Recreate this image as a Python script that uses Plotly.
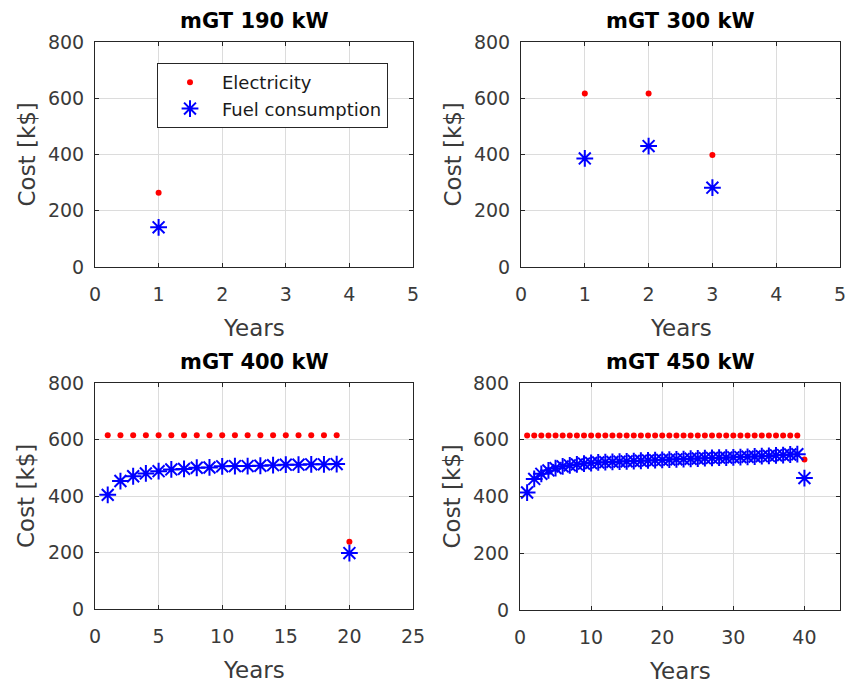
import plotly.graph_objects as go

# Yearly costs for each micro gas turbine size
years_190 = [1]
elec_190 = [264]
fuel_190 = [141]

years_300 = [1, 2, 3]
elec_300 = [617, 617, 398]
fuel_300 = [386, 430, 282]

years_400 = [1, 2, 3, 4, 5, 6, 7, 8, 9, 10, 11, 12, 13, 14, 15, 16, 17, 18, 19, 20]
elec_400 = [615, 615, 615, 615, 615, 615, 615, 615, 615, 615,
            615, 615, 615, 615, 615, 615, 615, 615, 615, 238]
fuel_400 = [404, 453, 470, 480, 488, 494, 496, 500, 501, 505,
            506, 506, 507, 509, 511, 511, 512, 512, 513, 198]

years_450 = [1, 2, 3, 4, 5, 6, 7, 8, 9, 10, 11, 12, 13, 14, 15, 16, 17, 18, 19, 20,
             21, 22, 23, 24, 25, 26, 27, 28, 29, 30, 31, 32, 33, 34, 35, 36, 37, 38, 39, 40]
elec_450 = [615, 615, 615, 615, 615, 615, 615, 615, 615, 615,
            615, 615, 615, 615, 615, 615, 615, 615, 615, 615,
            615, 615, 615, 615, 615, 615, 615, 615, 615, 615,
            615, 615, 615, 615, 615, 615, 615, 615, 615, 530]
fuel_450 = [414, 462, 480, 492, 500, 506, 510, 513, 516, 518,
            520, 521, 522, 523, 524, 525, 526, 527, 528, 529,
            530, 531, 532, 533, 534, 535, 536, 537, 537, 538,
            539, 540, 541, 542, 543, 545, 546, 548, 549, 465]

titles = ["mGT 190 kW", "mGT 300 kW", "mGT 400 kW", "mGT 450 kW"]
x_ranges = [[0, 5], [0, 5], [0, 25], [0, 45]]
x_ticks = [[0, 1, 2, 3, 4, 5], [0, 1, 2, 3, 4, 5], [0, 5, 10, 15, 20, 25], [0, 10, 20, 30, 40]]
y_ticks = [0, 200, 400, 600, 800]

panels = [
    (years_190, elec_190, fuel_190),
    (years_300, elec_300, fuel_300),
    (years_400, elec_400, fuel_400),
    (years_450, elec_450, fuel_450),
]

W, H = 848, 686
# panel boxes in pixels: (left, right, top, bottom)
boxes = [
    (95, 413, 42, 267),
    (521, 840, 42, 267),
    (95, 413, 383, 609),
    (520, 840, 383, 610),
]

FONT = "DejaVu Sans"
TXT = "#3a3a3a"
AXC = "#262626"
GRID = "#dcdcdc"

fig = go.Figure()
layout = dict(
    template="none",
    width=W, height=H,
    margin=dict(l=0, r=0, t=0, b=0, autoexpand=False),
    paper_bgcolor="white", plot_bgcolor="white",
    font=dict(family=FONT, color=TXT),
    showlegend=True,
    legend=dict(
        x=157 / W, y=1 - 63 / H, xanchor="left", yanchor="top",
        bgcolor="white", bordercolor=AXC, borderwidth=1,
        font=dict(family=FONT, size=18, color="#1a1a1a"),
        tracegroupgap=0, itemwidth=54,
    ),
)

annotations = []
for i, ((yrs, elec, fuel), (l, r, t, b)) in enumerate(zip(panels, boxes)):
    n = "" if i == 0 else str(i + 1)
    xa, ya = "x" + n, "y" + n
    fig.add_trace(go.Scatter(
        x=yrs, y=elec, mode="markers", name="Electricity",
        marker=dict(symbol="circle", size=6, color="#ff0000"),
        xaxis=xa, yaxis=ya, showlegend=(i == 0), legendgroup="e",
    ))
    fig.add_trace(go.Scatter(
        x=yrs, y=fuel, mode="markers", name="Fuel consumption",
        marker=dict(symbol="asterisk-open", size=14, color="#0000ff",
                    line=dict(color="#0000ff", width=2)),
        xaxis=xa, yaxis=ya, showlegend=(i == 0), legendgroup="f",
    ))
    common = dict(
        automargin=False,
        showline=True, linecolor=AXC, linewidth=1, mirror="ticks",
        ticks="inside", ticklen=4, tickcolor=AXC,
        showgrid=True, gridcolor=GRID, gridwidth=1, zeroline=False,
        tickfont=dict(family=FONT, size=19, color=TXT),
        fixedrange=True,
    )
    layout["xaxis" + n] = dict(
        common, domain=[l / W, r / W], range=x_ranges[i],
        tickvals=x_ticks[i], anchor=ya, ticklabelstandoff=10,
    )
    layout["yaxis" + n] = dict(
        common, domain=[1 - b / H, 1 - t / H], range=[0, 800],
        tickvals=y_ticks, anchor=xa, ticklabelstandoff=6,
    )
    cx = (l + r) / 2
    annotations.append(dict(
        text="<b>" + titles[i] + "</b>", x=cx / W, y=1 - (t - 21) / H,
        xref="paper", yref="paper", showarrow=False,
        font=dict(family=FONT, size=21, color="#000000"),
        xanchor="center", yanchor="middle",
    ))
    annotations.append(dict(
        text="Years", x=cx / W, y=1 - (b + 61) / H,
        xref="paper", yref="paper", showarrow=False,
        font=dict(family=FONT, size=23, color=TXT),
        xanchor="center", yanchor="middle",
    ))
    annotations.append(dict(
        text="Cost [k$]", x=(l - 69) / W, y=1 - ((t + b) / 2) / H,
        xref="paper", yref="paper", showarrow=False, textangle=-90,
        font=dict(family=FONT, size=23, color=TXT),
        xanchor="center", yanchor="middle",
    ))

layout["annotations"] = annotations
fig.update_layout(**layout)
fig.write_html("out.html")
